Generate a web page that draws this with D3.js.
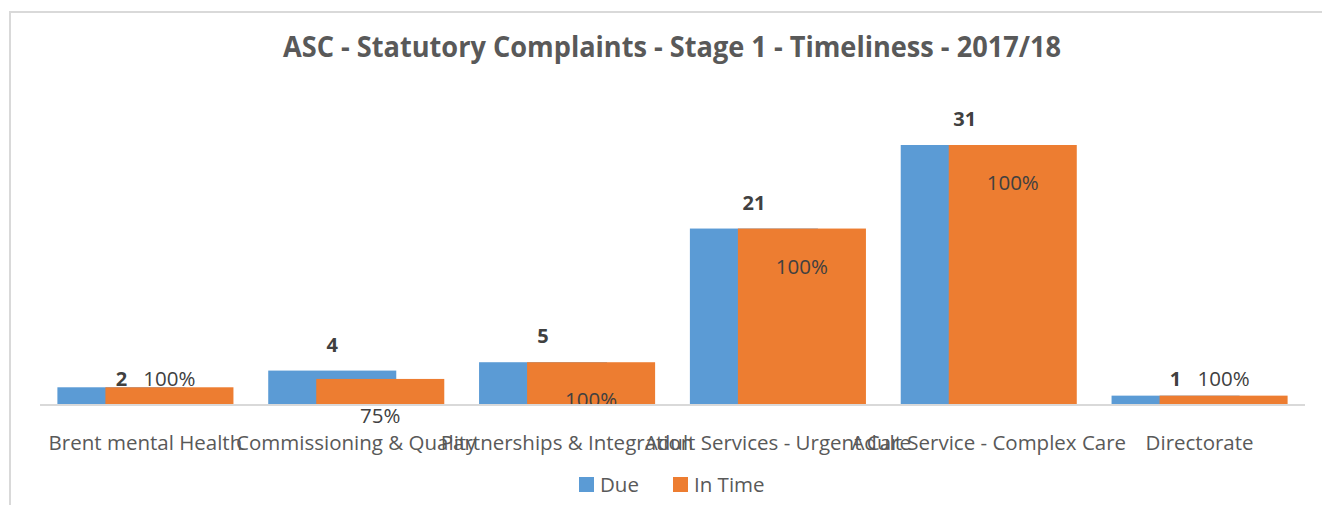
<!DOCTYPE html>
<html>
<head>
<meta charset="utf-8">
<script src="https://cdn.jsdelivr.net/npm/d3@7"></script>
<style>
  body { margin: 0; background: #fff; }
  svg { display: block; font-family: "Open Sans", sans-serif; }
</style>
</head>
<body>
<div id="chart"></div>
<script>
const categories = ['Brent mental Health', 'Commissioning & Quality', 'Partnerships & Integration',
  'Adult Services - Urgent Care', 'Adult Service - Complex Care', 'Directorate'];
const due = [2, 4, 5, 21, 31, 1];
const inTime = [2, 3, 5, 21, 31, 1];
const seriesNames = ['Due', 'In Time'];

const width = 1322, height = 505;
const blue = '#5b9bd5', orange = '#ed7d31';

const svg = d3.select('#chart').append('svg')
  .attr('width', width)
  .attr('height', height);

// frame (partial border like the cropped source)
svg.append('path')
  .attr('d', `M10,${height} V12 H${width}`)
  .attr('fill', 'none')
  .attr('stroke', '#d9d9d9')
  .attr('stroke-width', 2);

svg.append('text')
  .attr('x', 672)
  .attr('y', 57)
  .attr('text-anchor', 'middle')
  .attr('font-size', 28)
  .attr('font-weight', 'bold')
  .attr('fill', '#595959')
  .attr('textLength', 778)
  .attr('lengthAdjust', 'spacingAndGlyphs')
  .text('ASC - Statutory Complaints - Stage 1 - Timeliness - 2017/18');

const x = d3.scaleBand()
  .domain(categories)
  .range([40, 1305])
  .paddingInner(0.165)
  .paddingOuter(0.0825);

const y = d3.scaleLinear()
  .domain([0, 31])
  .range([404, 145]);

const barW = x.bandwidth() * 128 / 176;
const shift = x.bandwidth() - barW;

const data = categories.map((c, i) => ({ cat: c, due: due[i], inTime: inTime[i] }));

svg.append('defs').append('clipPath').attr('id', 'plot')
  .append('rect').attr('x', 0).attr('y', 0).attr('width', width).attr('height', y(0));

svg.selectAll('.due')
  .data(data)
  .enter()
  .append('rect')
  .attr('class', 'due')
  .attr('x', d => x(d.cat))
  .attr('y', d => y(d.due))
  .attr('width', barW)
  .attr('height', d => y(0) - y(d.due))
  .attr('fill', blue);

svg.selectAll('.intime')
  .data(data)
  .enter()
  .append('rect')
  .attr('class', 'intime')
  .attr('x', d => x(d.cat) + shift)
  .attr('y', d => y(d.inTime))
  .attr('width', barW)
  .attr('height', d => y(0) - y(d.inTime))
  .attr('fill', orange);

// axis line
svg.append('line')
  .attr('x1', 40).attr('x2', 1305)
  .attr('y1', y(0) + 1).attr('y2', y(0) + 1)
  .attr('stroke', '#d9d9d9')
  .attr('stroke-width', 2);

const small = d => d.due <= 2;

// Due labels
svg.selectAll('.dueLabel')
  .data(data)
  .enter()
  .append('text')
  .attr('x', d => x(d.cat) + barW / 2)
  .attr('y', d => small(d) ? y(0) - 18 : y(d.due) - 19)
  .attr('text-anchor', 'middle')
  .attr('font-size', 20)
  .attr('font-weight', 'bold')
  .attr('fill', '#404040')
  .text(d => d.due);

// In Time percentage labels
svg.selectAll('.pctLabel')
  .data(data)
  .enter()
  .append('text')
  .attr('x', d => x(d.cat) + shift + barW / 2)
  .attr('y', d => {
    if (small(d)) return y(0) - 18;
    if (d.inTime < d.due) return y(0) + 19;
    return y(d.inTime) + 45;
  })
  .attr('clip-path', d => (!small(d) && d.inTime >= d.due) ? 'url(#plot)' : null)
  .attr('text-anchor', 'middle')
  .attr('font-size', 20.5)
  .attr('fill', '#404040')
  .text(d => d3.format('.0%')(d.inTime / d.due));

// category labels
svg.selectAll('.catLabel')
  .data(categories)
  .enter()
  .append('text')
  .attr('x', d => x(d) + x.bandwidth() / 2)
  .attr('y', 450)
  .attr('text-anchor', 'middle')
  .attr('font-size', 20.5)
  .attr('fill', '#595959')
  .text(d => d);

// legend
const legend = svg.append('g');
const legX = [579, 673];
seriesNames.forEach((s, i) => {
  legend.append('rect')
    .attr('x', legX[i]).attr('y', 477)
    .attr('width', 15).attr('height', 15)
    .attr('fill', i === 0 ? blue : orange);
  legend.append('text')
    .attr('x', legX[i] + 21).attr('y', 492)
    .attr('font-size', 20.5)
    .attr('fill', '#595959')
    .text(s);
});
</script>
</body>
</html>
